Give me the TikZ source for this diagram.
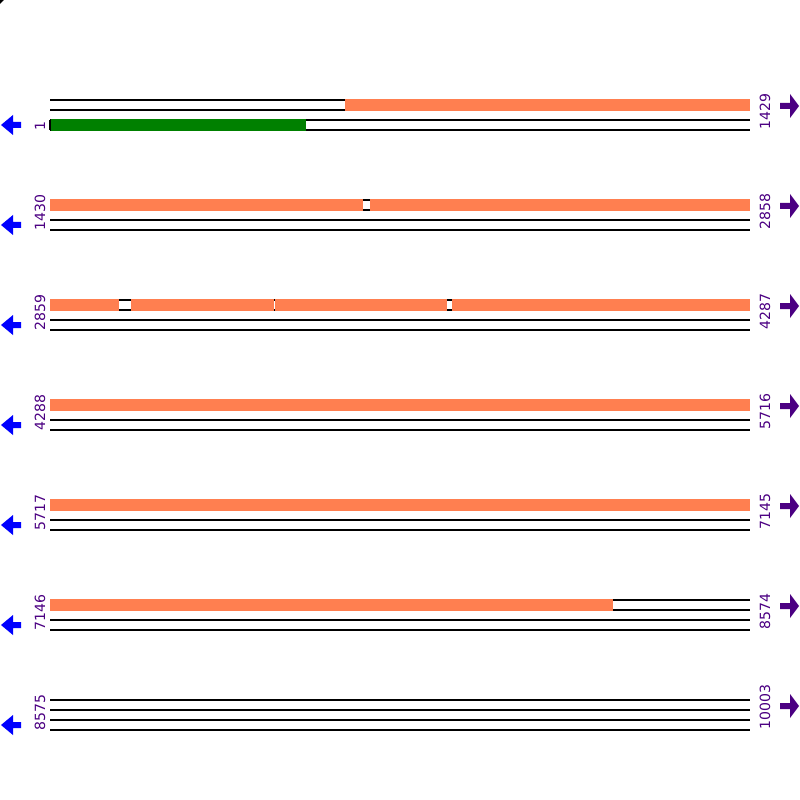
\documentclass[tikz,border=0pt]{standalone}
\usepackage{fontspec}
\setsansfont{DejaVu Sans}
\usepackage{tikz}
\usetikzlibrary{positioning}
\definecolor{hitorange}{RGB}{255,127,80}
\definecolor{cdsgreen}{RGB}{0,128,0}
\definecolor{strandblue}{RGB}{0,0,255}
\definecolor{strandpurple}{RGB}{75,0,130}
\tikzset{
  track/.style={draw=black, line width=0.6pt},
  hitbar/.style={fill=hitorange},
  cdsbar/.style={fill=cdsgreen},
  poslabel/.style={rotate=90, anchor=base west, inner sep=0pt,
    text=strandpurple, font=\sffamily\fontsize{8}{9}\selectfont},
  revarrow/.style={fill=strandblue},
  fwdarrow/.style={fill=strandpurple}
}
\begin{document}
\begin{tikzpicture}[x=0.02cm, y=-0.02cm]
  \useasboundingbox (0,0) rectangle (800,800);
  \fill[black] (0,0) -- (4,0) -- (0,4) -- cycle;

  % Rows: four track lines, position labels and strand arrows
  \foreach \r/\a/\b in {0/1/1429, 1/1430/2858, 2/2859/4287, 3/4288/5716,
                        4/5717/7145, 5/7146/8574, 6/8575/10003} {
    \pgfmathsetmacro{\yy}{100+100*\r}
    \foreach \k in {0,10,20,30}
      \draw[track] (50,\yy+\k) -- (750,\yy+\k);
    \node[poslabel] (start\r) at (45,\yy+31) {\a};
    \node[poslabel] (end\r) at (770,\yy+30) {\b};
    \fill[revarrow] (1,\yy+25) -- (13,\yy+15) -- (13,\yy+22) -- (21,\yy+22)
      -- (21,\yy+28) -- (13,\yy+28) -- (13,\yy+35) -- cycle;
    \fill[fwdarrow] (799,\yy+6) -- (790,\yy-6) -- (790,\yy+3) -- (780,\yy+3)
      -- (780,\yy+9) -- (790,\yy+9) -- (790,\yy+18) -- cycle;
  }

  % Row 1
  \fill[hitbar] (345,99.3) rectangle (750,110.7);
  \fill[cdsbar] (51,119.3) rectangle (306,130.7);
  \draw[track] (50,120) -- (50,130);

  % Row 2
  \fill[hitbar] (50,199.3) rectangle (363,210.7);
  \fill[hitbar] (370,199.3) rectangle (750,210.7);

  % Row 3
  \fill[hitbar] (50,299.3) rectangle (119,310.7);
  \fill[hitbar] (131,299.3) rectangle (273.5,310.7);
  \fill[hitbar] (275,299.3) rectangle (447,310.7);
  \fill[hitbar] (452,299.3) rectangle (750,310.7);

  % Rows 4 and 5
  \fill[hitbar] (50,399.3) rectangle (750,410.7);
  \fill[hitbar] (50,499.3) rectangle (750,510.7);

  % Row 6
  \fill[hitbar] (50,599.3) rectangle (613,610.7);
\end{tikzpicture}
\end{document}
